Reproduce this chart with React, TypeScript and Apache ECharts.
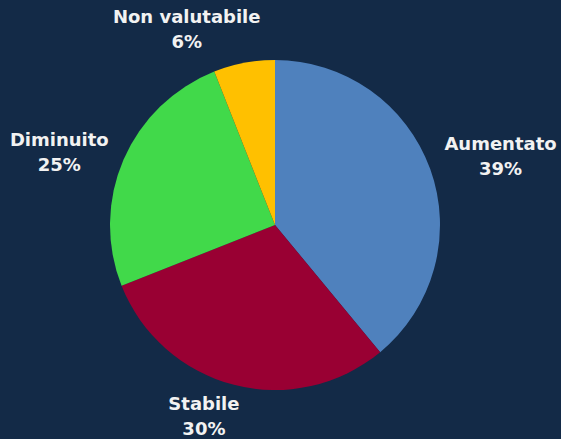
import React, { useEffect, useRef } from "react";
import * as echarts from "echarts";

const categories = ["Aumentato", "Stabile", "Diminuito", "Non valutabile"];
const values = [39, 30, 25, 6];

const colors = ["#4f81bd", "#990033", "#41d94a", "#ffc000"];
const labelShift: [number, number][] = [
  [-4, -8],
  [14, 18],
  [3, -2],
  [24, -20],
];

export default function App() {
  const ref = useRef<HTMLDivElement>(null);
  useEffect(() => {
    if (!ref.current) return;
    const chart = echarts.init(ref.current, null, { renderer: "svg" });
    chart.setOption({
      animation: false,
      backgroundColor: "#132a47",
      series: [
        {
          type: "pie",
          center: [275, 225],
          radius: 165,
          startAngle: 90,
          clockwise: true,
          avoidLabelOverlap: false,
          data: categories.map((c, i) => ({
            name: c,
            value: values[i],
            itemStyle: { color: colors[i] },
          })),
          label: {
            show: true,
            position: "outside",
            formatter: "{b}\n{c}%",
            color: "#f2f2f2",
            fontFamily: "DejaVu Sans",
            fontWeight: "bold",
            fontSize: 18,
            lineHeight: 25,
            overflow: "none",
          },
          labelLine: { show: false, length: 14, length2: 0 },
          labelLayout: (p: any) => {
            const r = p.labelRect;
            const s = labelShift[p.dataIndex] || [0, 0];
            return {
              x: r.x + r.width / 2 + s[0],
              y: r.y + r.height / 2 + s[1],
              align: "center",
              verticalAlign: "middle",
            };
          },
        },
      ],
    });
    return () => chart.dispose();
  }, []);
  return (
    <div
      ref={ref}
      style={{ position: "fixed", left: 0, top: 0, width: 561, height: 439 }}
    />
  );
}
